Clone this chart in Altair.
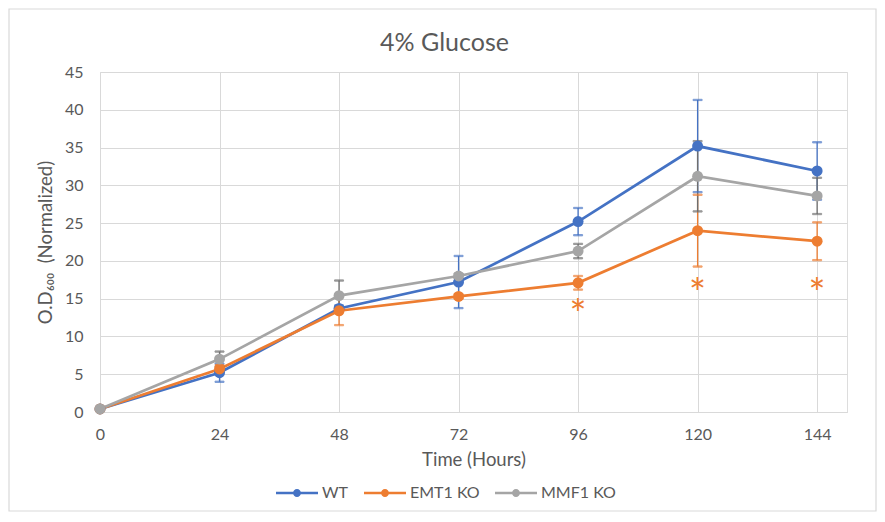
import altair as alt
import pandas as pd

hours = [0, 24, 48, 72, 96, 120, 144]
series = ["WT", "EMT1 KO", "MMF1 KO"]
wt_mean = [0.4, 5.2, 13.7, 17.2, 25.2, 35.2, 31.9]
wt_err = [0.0, 1.2, 0.4, 3.45, 1.8, 6.1, 3.8]
emt_mean = [0.4, 5.7, 13.4, 15.3, 17.1, 24.0, 22.6]
emt_err = [0.0, 0.5, 1.9, 0.3, 0.9, 4.75, 2.5]
mmf_mean = [0.4, 7.0, 15.4, 18.0, 21.3, 31.2, 28.6]
mmf_err = [0.0, 1.0, 2.0, 0.3, 0.95, 4.65, 2.4]
star_hours = [96, 120, 144]
star_y = [14.1, 17.0, 17.0]

line_colors = ["#4472C4", "#ED7D31", "#A5A5A5"]
err_colors = ["#4472C4", "#ED7D31", "#6E6E6E"]
means = [wt_mean, emt_mean, mmf_mean]
errs = [wt_err, emt_err, mmf_err]

FONT = "Lato"
TXT = "#595959"
GRID = "#D9D9D9"

rows = []
for i, s in enumerate(series):
    for h, m, e in zip(hours, means[i], errs[i]):
        rows.append({"hour": h, "od": m, "lo": m - e, "hi": m + e, "series": s})
df = pd.DataFrame(rows)

color_scale = alt.Scale(domain=series, range=line_colors)
err_scale = alt.Scale(domain=series, range=err_colors)
x_scale = alt.Scale(domain=[0, 150], nice=False, zero=False)
y_scale = alt.Scale(domain=[0, 45], nice=False)

x_axis = alt.Axis(values=hours, title="Time (Hours)", grid=True, gridColor=GRID,
                  ticks=False, domainColor=GRID, labelPadding=14, labelFlush=False,
                  labelFontSize=16, titleFontSize=18.5, titlePadding=8,
                  labelFont=FONT, titleFont=FONT, labelColor=TXT, titleColor=TXT,
                  titleFontWeight="normal")
y_axis = alt.Axis(values=list(range(0, 50, 5)),
                  title="O.D\u2086\u2080\u2080\u00a0\u00a0(Normalized)",
                  grid=True, gridColor=GRID, ticks=False, domain=False, labelFlush=False,
                  labelOverlap=False, labelPadding=17, labelFontSize=16, titleFontSize=18.5,
                  titlePadding=9, labelFont=FONT, titleFont=FONT, labelColor=TXT,
                  titleColor=TXT, titleFontWeight="normal")

x_enc = alt.X("hour:Q", scale=x_scale, axis=x_axis)

legend_path = ("M-1.05,-0.0625L-0.19,-0.0625L-0.19,0.0625L-1.05,0.0625Z"
               "M0.19,-0.0625L1.05,-0.0625L1.05,0.0625L0.19,0.0625Z"
               "M0.2,0A0.2,0.2,0,1,1,-0.2,0A0.2,0.2,0,1,1,0.2,0Z")

base = alt.Chart(df)

# outer chart border (decoration)
border = alt.Chart(pd.DataFrame({"a": [0]})).mark_rect(
    fill=None, stroke=GRID, strokeWidth=1.2
).encode(x=alt.value(-91), x2=alt.value(776), y=alt.value(-63), y2=alt.value(439))

line = base.mark_line(strokeWidth=2.75).encode(
    x=x_enc, y=alt.Y("od:Q", scale=y_scale, axis=y_axis),
    stroke=alt.Stroke("series:N", scale=color_scale, legend=None),
    detail="series:N",
)
rule = base.mark_rule(strokeWidth=1.3).encode(
    x=x_enc, y=alt.Y("lo:Q", scale=y_scale, axis=y_axis), y2="hi:Q",
    stroke=alt.Stroke("series:N", scale=err_scale, legend=None),
)
caps = base.transform_fold(["lo", "hi"], as_=["k", "cap"]).mark_tick(
    orient="horizontal", size=9, thickness=1.3
).encode(
    x=x_enc, y=alt.Y("cap:Q", scale=y_scale, axis=y_axis),
    fill=alt.Fill("series:N", scale=err_scale, legend=None),
    stroke=alt.Stroke("series:N", scale=err_scale, legend=None),
)
pts = base.mark_circle(size=120, opacity=1).encode(
    x=x_enc, y=alt.Y("od:Q", scale=y_scale, axis=y_axis),
    color=alt.Color("series:N", scale=color_scale,
                    legend=alt.Legend(title=None, orient="none", direction="horizontal",
                                      legendX=176, legendY=400, symbolType=legend_path,
                                      symbolSize=1600, labelFont=FONT, labelFontSize=16,
                                      labelColor=TXT, labelOffset=4, columnPadding=15)),
)

stars = alt.Chart(pd.DataFrame({"hour": star_hours, "od": star_y, "t": ["*"] * 3})).mark_text(
    color="#ED7D31", fontSize=40, font=FONT, baseline="middle", dy=12
).encode(x=x_enc, y=alt.Y("od:Q", scale=y_scale, axis=y_axis), text="t:N")

chart = alt.layer(border, line, rule, caps, pts, stars).properties(
    width=747, height=340,
    title=alt.TitleParams("4% Glucose", fontSize=25, font=FONT, color=TXT,
                          fontWeight="normal", anchor="middle", dx=-29, offset=-68,
                          baseline="alphabetic", frame="group"),
    autosize=alt.AutoSizeParams(type="none"),
    padding={"left": 92, "top": 64, "right": 30, "bottom": 100},
).resolve_scale(stroke="independent", fill="independent").configure_view(
    stroke=None).configure(background="white")

chart.save("out.html", embed_options={"renderer": "svg", "actions": False})
